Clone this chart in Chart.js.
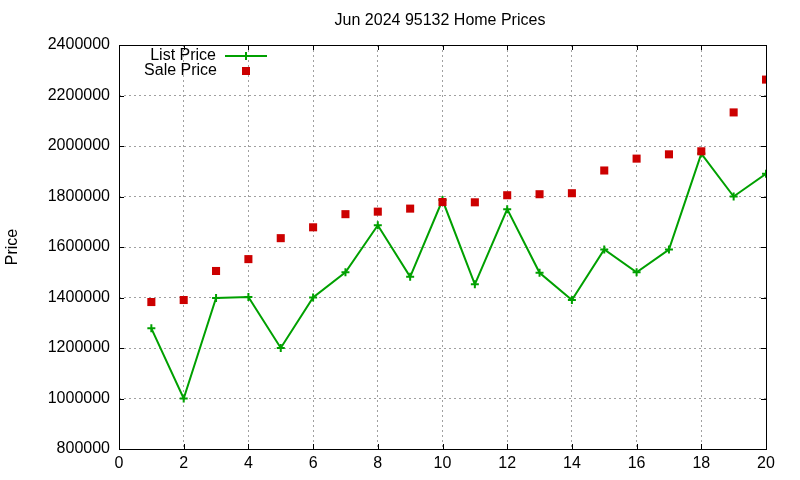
<!DOCTYPE html>
<html>
<head>
<meta charset="utf-8">
<script src="https://cdn.jsdelivr.net/npm/chart.js@4/dist/chart.umd.min.js"></script>
<style>
  html, body { margin: 0; padding: 0; background: #fff; }
  canvas { display: block; }
</style>
</head>
<body>
<canvas id="priceChart" width="800" height="480"></canvas>
<script>
// month index on x axis
const months = [1, 2, 3, 4, 5, 6, 7, 8, 9, 10, 11, 12, 13, 14, 15, 16, 17, 18, 19, 20];
const listPrice = [1278000, 1000000, 1398000, 1402000, 1200000, 1400000, 1500000, 1686000, 1482000, 1786000,
  1452000, 1750000, 1498000, 1390000, 1590000, 1500000, 1590000, 1970000, 1800000, 1890000];
const salePrice = [1382000, 1390000, 1505000, 1552000, 1635000, 1678000, 1730000, 1740000, 1752000, 1778000,
  1777000, 1805000, 1809000, 1813000, 1903000, 1950000, 1967000, 1979000, 2133000, 2263000];
const xTicks = { min: 0, max: 20, step: 2 };
const yTicks = { min: 800000, max: 2400000, step: 200000 };

const FONT = '"Liberation Sans", Arial, sans-serif';
const GREEN = '#00a000';
const RED = '#cc0000';

const toPoints = (ys) => months.map((m, i) => ({ x: m, y: ys[i] }));

/**
 * Gnuplot-like frame, inward ticks, title and key
 */
const gnuplotFrame = {
  id: 'gnuplotFrame',
  afterDraw(chart) {
    const { ctx, chartArea: a, scales } = chart;
    ctx.save();
    ctx.strokeStyle = '#000';
    ctx.lineWidth = 1;
    ctx.strokeRect(Math.round(a.left) + 0.5, Math.round(a.top) + 0.5,
      Math.round(a.right - a.left), Math.round(a.bottom - a.top));

    const tl = 5;
    ctx.beginPath();
    scales.x.ticks.forEach((t) => {
      const px = Math.round(scales.x.getPixelForValue(t.value)) + 0.5;
      ctx.moveTo(px, a.bottom); ctx.lineTo(px, a.bottom - tl);
      ctx.moveTo(px, a.top); ctx.lineTo(px, a.top + tl);
    });
    scales.y.ticks.forEach((t) => {
      const py = Math.round(scales.y.getPixelForValue(t.value)) + 0.5;
      ctx.moveTo(a.left, py); ctx.lineTo(a.left + tl, py);
      ctx.moveTo(a.right, py); ctx.lineTo(a.right - tl, py);
    });
    ctx.stroke();

    // title
    ctx.fillStyle = '#000';
    ctx.font = `16px ${FONT}`;
    ctx.textAlign = 'center';
    ctx.textBaseline = 'middle';
    ctx.fillText('Jun 2024 95132 Home Prices', 440, 21);

    // key
    ctx.textAlign = 'right';
    ctx.fillText('List Price', 216, 56);
    ctx.fillText('Sale Price', 217, 71);
    ctx.strokeStyle = GREEN;
    ctx.lineWidth = 2;
    ctx.beginPath();
    ctx.moveTo(225, 56); ctx.lineTo(267, 56);
    ctx.moveTo(246, 52); ctx.lineTo(246, 60);
    ctx.stroke();
    ctx.fillStyle = RED;
    ctx.fillRect(242, 67, 8, 8);
    ctx.restore();
  },
};

const gridStyle = {
  color: '#a0a0a0',
  lineWidth: 1,
  drawTicks: false,
};

new Chart(document.getElementById('priceChart'), {
  type: 'scatter',
  data: {
    datasets: [
      {
        label: 'List Price',
        data: toPoints(listPrice),
        showLine: true,
        borderColor: GREEN,
        backgroundColor: GREEN,
        borderWidth: 2,
        pointStyle: 'cross',
        pointRadius: 4,
        pointBorderWidth: 2,
        order: 2,
      },
      {
        label: 'Sale Price',
        data: toPoints(salePrice),
        showLine: false,
        borderColor: RED,
        backgroundColor: RED,
        pointStyle: 'rect',
        pointRadius: 5.7,
        pointBorderWidth: 0,
        order: 1,
      },
    ],
  },
  options: {
    responsive: false,
    devicePixelRatio: 1,
    animation: false,
    layout: { padding: { top: 45, right: 34, left: 0, bottom: 0 } },
    plugins: {
      legend: { display: false },
      tooltip: { enabled: false },
      title: { display: false },
    },
    scales: {
      x: {
        type: 'linear',
        min: xTicks.min,
        max: xTicks.max,
        afterFit: (s) => { s.height = 31; },
        border: { display: false, dash: [2, 3] },
        grid: gridStyle,
        ticks: {
          stepSize: xTicks.step,
          padding: 5,
          color: '#000',
          font: { family: FONT, size: 16 },
          callback: (v) => String(v),
        },
      },
      y: {
        type: 'linear',
        min: yTicks.min,
        max: yTicks.max,
        afterFit: (s) => { s.width = 119; },
        border: { display: false, dash: [2, 3] },
        grid: gridStyle,
        title: {
          display: true,
          text: 'Price',
          color: '#000',
          font: { family: FONT, size: 16 },
          padding: { top: 3, bottom: 0 },
        },
        ticks: {
          stepSize: yTicks.step,
          padding: 9,
          color: '#000',
          font: { family: FONT, size: 16 },
          callback: (v) => String(v),
        },
      },
    },
  },
  plugins: [gnuplotFrame],
});
</script>
</body>
</html>
